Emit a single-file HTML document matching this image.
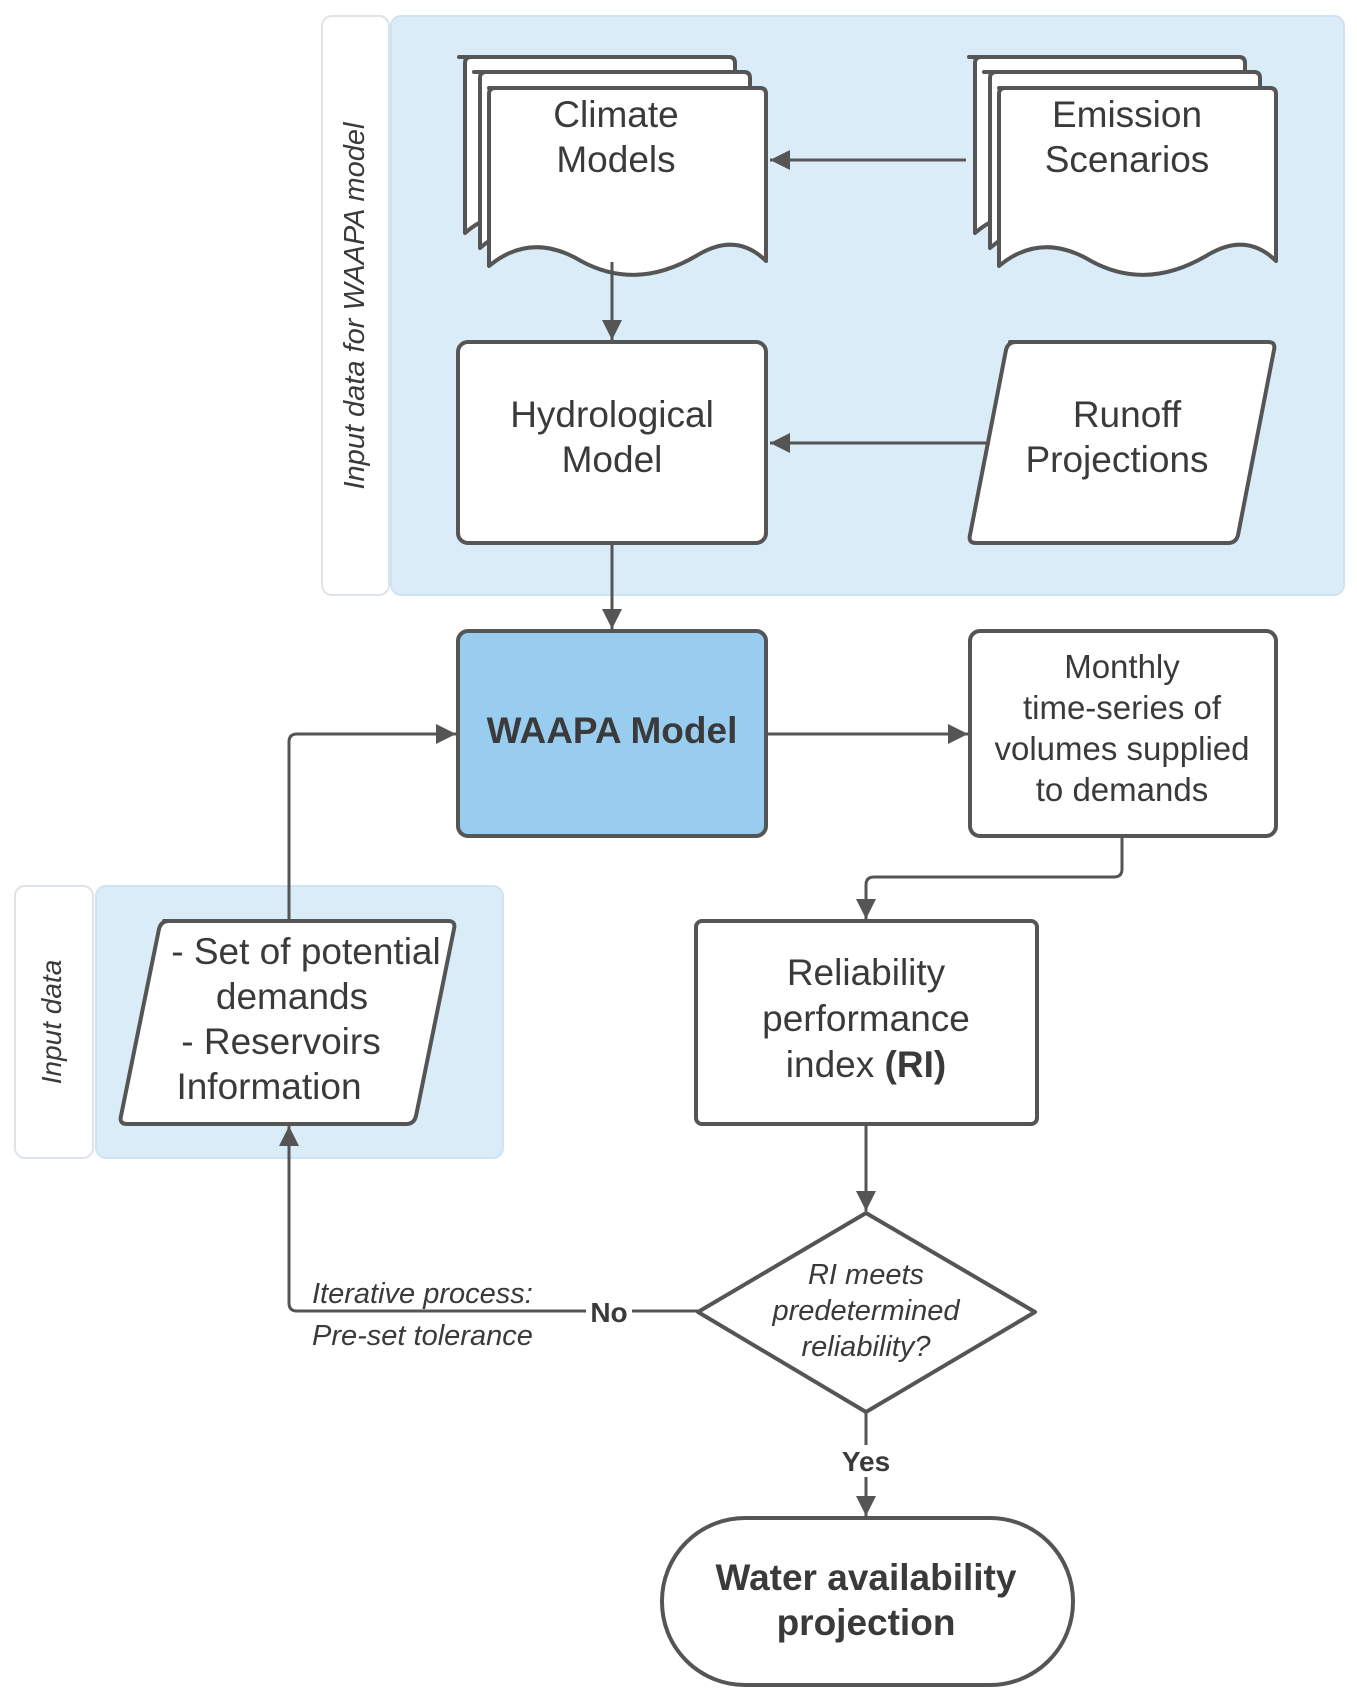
<!DOCTYPE html>
<html><head><style>
body{margin:0;background:#fff;}
svg{display:block;}
text{font-family:"Liberation Sans",sans-serif;fill:#3a3a3a;}
</style></head><body>
<svg width="1357" height="1698" viewBox="0 0 1357 1698">
<defs>
<marker id="b" viewBox="0 0 20 20" markerWidth="24" markerHeight="20" refX="20" refY="10" orient="auto" markerUnits="userSpaceOnUse"><path d="M0,0 L20,10 L0,20 Z" fill="#555"/></marker></defs>
<g stroke="#dde3e8" stroke-width="2">
<rect x="322" y="16" width="67" height="579" rx="10" fill="#fff"/>
<rect x="391" y="16" width="953" height="579" rx="10" fill="#d9ecf8" stroke="#cfe3f0"/>
<rect x="15" y="886" width="78" height="272" rx="10" fill="#fff"/>
<rect x="96" y="886" width="407" height="272" rx="10" fill="#d9ecf8" stroke="#cfe3f0"/>
</g>
<text transform="translate(364,306) rotate(-90)" text-anchor="middle" font-size="29" font-style="italic">Input data for WAAPA model</text>
<text transform="translate(61,1022) rotate(-90)" text-anchor="middle" font-size="28" font-style="italic">Input data</text>
<g fill="#fff" stroke="#555" stroke-width="4" stroke-linejoin="round">
<g id="doc">
<path d="M459,57 h270 q6,0 6,6 v165 q-30,-30 -70,-5 q-60,35 -110,5 q-50,-30 -90,5 v-170 q0,-6 6,-6 z"/>
<path d="M474,72 h270 q6,0 6,6 v165 q-30,-30 -70,-5 q-60,35 -110,5 q-50,-30 -90,5 v-170 q0,-6 6,-6 z"/>
<path d="M489,88 h271 q6,0 6,6 v167 q-30,-30 -70,-5 q-60,35 -115,5 q-50,-30 -92,5 v-172 q0,-6 6,-6 z"/>
</g>
<use href="#doc" transform="translate(510,0)"/>
<rect x="458" y="342" width="308" height="201" rx="10"/>
<path d="M1010,342 h258 q8,0 6,8 l-36,185 q-2,8 -10,8 h-252 q-8,0 -6,-8 l36,-185 q2,-8 10,-8 z"/>
<rect x="458" y="631" width="308" height="205" rx="10" fill="#99cdf0"/>
<rect x="970" y="631" width="306" height="205" rx="10"/>
<rect x="696" y="921" width="341" height="203" rx="6"/>
<path d="M164,921 h284 q8,0 6,8 l-38,187 q-2,8 -10,8 h-279 q-8,0 -6,-8 l38,-187 q2,-8 10,-8 z"/>
<path d="M866,1213 L1035,1312 L866,1412 L698,1312 Z"/>
<rect x="662" y="1518" width="411" height="167" rx="83"/>
</g>
<g stroke="#555" stroke-width="3" fill="none">
<line x1="966" y1="160" x2="770" y2="160" marker-end="url(#b)"/>
<line x1="612" y1="262" x2="612" y2="340" marker-end="url(#b)"/>
<line x1="990" y1="443" x2="770" y2="443" marker-end="url(#b)"/>
<line x1="612" y1="543" x2="612" y2="629" marker-end="url(#b)"/>
<line x1="766" y1="734" x2="968" y2="734" marker-end="url(#b)"/>
<path d="M1122,836 V869 Q1122,877 1114,877 H874 Q866,877 866,885 V919" marker-end="url(#b)"/>
<line x1="866" y1="1124" x2="866" y2="1211" marker-end="url(#b)"/>
<line x1="866" y1="1412" x2="866" y2="1516" marker-end="url(#b)"/>
<path d="M289,921 V742 Q289,734 297,734 H456" marker-end="url(#b)"/>
<path d="M698,1311 H297 Q289,1311 289,1303 V1126" marker-end="url(#b)"/>
</g>
<rect x="586" y="1294" width="46" height="34" fill="#fff"/>
<rect x="836" y="1445" width="60" height="32" fill="#fff"/>
<g font-size="37" text-anchor="middle">
<text x="616" y="127">Climate</text><text x="616" y="172">Models</text>
<text x="1127" y="127">Emission</text><text x="1127" y="172">Scenarios</text>
<text x="612" y="427">Hydrological</text><text x="612" y="472">Model</text>
<text x="1127" y="427">Runoff</text><text x="1117" y="472">Projections</text>
<text x="612" y="743" font-weight="bold">WAAPA Model</text>
<text x="866" y="985">Reliability</text><text x="866" y="1031">performance</text><text x="866" y="1077">index <tspan font-weight="bold">(RI)</tspan></text>
<text x="306" y="964">- Set of potential</text><text x="292" y="1009">demands</text><text x="281" y="1054">- Reservoirs</text><text x="269" y="1099">Information</text>
<text x="866" y="1590" font-weight="bold">Water availability</text><text x="866" y="1635" font-weight="bold">projection</text>
</g>
<g font-size="33" text-anchor="middle">
<text x="1122" y="678">Monthly</text><text x="1122" y="719">time-series of</text><text x="1122" y="760">volumes supplied</text><text x="1122" y="801">to demands</text>
</g>
<g font-size="29" font-style="italic" text-anchor="middle">
<text x="866" y="1284">RI meets</text><text x="866" y="1320">predetermined</text><text x="866" y="1356">reliability?</text>
</g>
<g font-size="29" font-style="italic">
<text x="312" y="1303">Iterative process:</text><text x="312" y="1345">Pre-set tolerance</text>
</g>
<text x="609" y="1322" font-size="28" font-weight="bold" text-anchor="middle">No</text>
<text x="866" y="1471" font-size="28" font-weight="bold" text-anchor="middle">Yes</text>
</svg>
</body></html>
